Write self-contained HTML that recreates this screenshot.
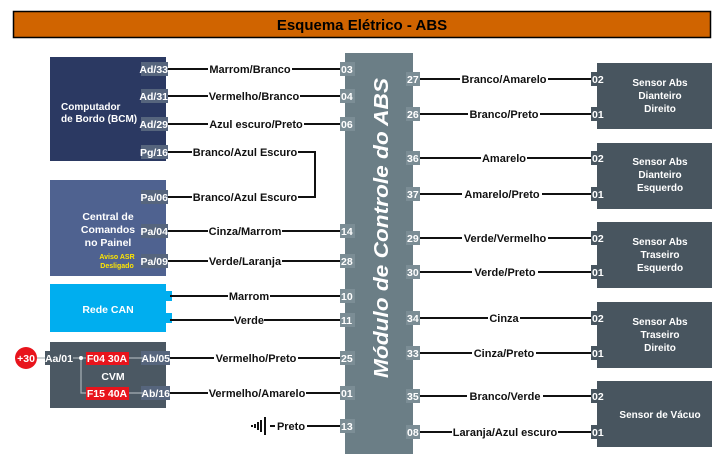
<!DOCTYPE html>
<html><head><meta charset="utf-8"><style>
html,body{margin:0;padding:0;background:#fff;width:722px;height:454px;overflow:hidden}
svg{display:block;font-family:"Liberation Sans",sans-serif;font-weight:bold}
</style></head><body>
<svg width="722" height="454" viewBox="0 0 722 454" xmlns="http://www.w3.org/2000/svg">
<rect x="13.5" y="11.5" width="697" height="26" fill="#d06400" stroke="#000" stroke-width="1.5"/>
<text x="362" y="30" font-size="15" text-anchor="middle" fill="#000">Esquema Elétrico - ABS</text>

<!-- left boxes -->
<rect x="50" y="57" width="116" height="104" fill="#2b3962"/>
<text fill="#fff" font-size="10"><tspan x="61" y="110">Computador</tspan><tspan x="61" y="122">de Bordo (BCM)</tspan></text>
<rect x="50" y="180" width="116" height="96" fill="#4f6290"/>
<text fill="#fff" font-size="10.5" text-anchor="middle"><tspan x="108" y="220">Central de</tspan><tspan x="108" y="233">Comandos</tspan><tspan x="108" y="246">no Painel</tspan></text>
<text fill="#ffe600" font-size="7" text-anchor="middle"><tspan x="117" y="259">Aviso ASR</tspan><tspan x="117" y="268">Desligado</tspan></text>
<rect x="50" y="284" width="116" height="48" fill="#00aeef"/>
<rect x="164" y="291" width="8" height="10" fill="#00aeef"/>
<rect x="164" y="313" width="8" height="10" fill="#00aeef"/>
<text x="108" y="313" fill="#fff" font-size="10.5" text-anchor="middle">Rede CAN</text>
<rect x="50" y="342" width="116" height="66" fill="#4b5863"/>
<text x="113" y="380" fill="#fff" font-size="10.5" text-anchor="middle">CVM</text>

<!-- module -->
<rect x="345" y="53" width="68" height="401" fill="#6b7e86"/>
<text transform="translate(388,228) rotate(-90)" fill="#fff" font-size="20" font-style="italic" text-anchor="middle" textLength="300" lengthAdjust="spacingAndGlyphs">Módulo de Controle do ABS</text>

<!-- right boxes -->
<g fill="#48555f">
<rect x="597" y="63" width="115" height="66"/>
<rect x="597" y="143" width="115" height="66"/>
<rect x="597" y="222" width="115" height="66"/>
<rect x="597" y="302" width="115" height="66"/>
<rect x="597" y="381" width="115" height="66"/>
</g>
<g fill="#fff" font-size="10" text-anchor="middle">
<text><tspan x="660" y="86">Sensor Abs</tspan><tspan x="660" y="99">Dianteiro</tspan><tspan x="660" y="112">Direito</tspan></text>
<text><tspan x="660" y="165">Sensor Abs</tspan><tspan x="660" y="178">Dianteiro</tspan><tspan x="660" y="191">Esquerdo</tspan></text>
<text><tspan x="660" y="245">Sensor Abs</tspan><tspan x="660" y="258">Traseiro</tspan><tspan x="660" y="271">Esquerdo</tspan></text>
<text><tspan x="660" y="325">Sensor Abs</tspan><tspan x="660" y="338">Traseiro</tspan><tspan x="660" y="351">Direito</tspan></text>
<text x="660" y="418">Sensor de Vácuo</text>
</g>

<!-- wires -->
<g stroke="#111" stroke-width="2" fill="none">
<line x1="166" y1="69" x2="340" y2="69"/>
<line x1="166" y1="96" x2="340" y2="96"/>
<line x1="166" y1="124" x2="340" y2="124"/>
<polyline points="166,152 315,152 315,197 166,197"/>
<line x1="166" y1="231" x2="340" y2="231"/>
<line x1="166" y1="261" x2="340" y2="261"/>
<line x1="170" y1="296" x2="340" y2="296"/>
<line x1="170" y1="320" x2="340" y2="320"/>
<line x1="166" y1="358" x2="340" y2="358"/>
<line x1="166" y1="393" x2="340" y2="393"/>
<line x1="270" y1="426" x2="340" y2="426"/>
<line x1="419" y1="79" x2="592" y2="79"/>
<line x1="419" y1="114" x2="592" y2="114"/>
<line x1="419" y1="158" x2="592" y2="158"/>
<line x1="419" y1="194" x2="592" y2="194"/>
<line x1="419" y1="238" x2="592" y2="238"/>
<line x1="419" y1="272" x2="592" y2="272"/>
<line x1="419" y1="318" x2="592" y2="318"/>
<line x1="419" y1="353" x2="592" y2="353"/>
<line x1="419" y1="396" x2="592" y2="396"/>
<line x1="419" y1="432" x2="592" y2="432"/>
</g>
<!-- ground -->
<g stroke="#111" stroke-width="2">
<line x1="265" y1="417" x2="265" y2="435"/>
<line x1="261" y1="420" x2="261" y2="432"/>
<line x1="258" y1="422" x2="258" y2="430"/>
<line x1="255" y1="424" x2="255" y2="428"/>
<line x1="252" y1="425" x2="252" y2="427"/>
</g>

<!-- wire labels -->
<g font-size="11" text-anchor="middle" fill="#111">
<g fill="#fff" stroke="none">
<rect x="208" y="62" width="84" height="14"/><rect x="208" y="89" width="92" height="14"/><rect x="208" y="117" width="96" height="14"/>
<rect x="192" y="145" width="106" height="14"/><rect x="192" y="190" width="106" height="14"/>
<rect x="208" y="224" width="74" height="14"/><rect x="208" y="254" width="74" height="14"/>
<rect x="228" y="289" width="42" height="14"/><rect x="234" y="313" width="30" height="14"/>
<rect x="214" y="351" width="84" height="14"/><rect x="208" y="386" width="98" height="14"/><rect x="275" y="419" width="32" height="14"/>
<rect x="460" y="72" width="88" height="14"/><rect x="468" y="107" width="72" height="14"/>
<rect x="481" y="151" width="46" height="14"/><rect x="462" y="187" width="80" height="14"/>
<rect x="462" y="231" width="86" height="14"/><rect x="472" y="265" width="66" height="14"/>
<rect x="488" y="311" width="32" height="14"/><rect x="472" y="346" width="64" height="14"/>
<rect x="467" y="389" width="76" height="14"/><rect x="452" y="425" width="106" height="14"/>
</g>
<text x="250" y="73">Marrom/Branco</text>
<text x="254" y="100">Vermelho/Branco</text>
<text x="256" y="128">Azul escuro/Preto</text>
<text x="245" y="156">Branco/Azul Escuro</text>
<text x="245" y="201">Branco/Azul Escuro</text>
<text x="245" y="235">Cinza/Marrom</text>
<text x="245" y="265">Verde/Laranja</text>
<text x="249" y="300">Marrom</text>
<text x="249" y="324">Verde</text>
<text x="256" y="362">Vermelho/Preto</text>
<text x="257" y="397">Vermelho/Amarelo</text>
<text x="291" y="430">Preto</text>
<text x="504" y="83">Branco/Amarelo</text>
<text x="504" y="118">Branco/Preto</text>
<text x="504" y="162">Amarelo</text>
<text x="502" y="198">Amarelo/Preto</text>
<text x="505" y="242">Verde/Vermelho</text>
<text x="505" y="276">Verde/Preto</text>
<text x="504" y="322">Cinza</text>
<text x="504" y="357">Cinza/Preto</text>
<text x="505" y="400">Branco/Verde</text>
<text x="505" y="436">Laranja/Azul escuro</text>
</g>

<!-- pin labels left boxes -->
<g font-size="10.5" fill="#fff" text-anchor="end">
<g fill="#56657d">
<rect x="141" y="62" width="27" height="14"/><rect x="141" y="89" width="27" height="14"/><rect x="141" y="117" width="27" height="14"/><rect x="141" y="145" width="27" height="14"/>
<rect x="141" y="190" width="27" height="14"/><rect x="141" y="224" width="27" height="14"/><rect x="141" y="254" width="27" height="14"/>
<rect x="141" y="351" width="29" height="14"/><rect x="141" y="386" width="29" height="14"/>
<rect x="45" y="351" width="28" height="14" fill="#4b5863"/>
</g>
<text x="168" y="73">Ad/33</text><text x="168" y="100">Ad/31</text><text x="168" y="128">Ad/29</text><text x="168" y="156">Pg/16</text>
<text x="168" y="201">Pa/06</text><text x="168" y="235">Pa/04</text><text x="168" y="265">Pa/09</text>
<text x="170" y="362">Ab/05</text><text x="170" y="397">Ab/16</text>
<text x="73" y="362">Aa/01</text>
</g>
<!-- CVM internals -->
<circle cx="26" cy="358" r="11" fill="#e8141c"/>
<text x="26" y="362" font-size="10.5" fill="#fff" text-anchor="middle">+30</text>
<g stroke="#aab3b8" stroke-width="1.2" fill="none">
<line x1="37" y1="358" x2="45" y2="358"/>
<line x1="73" y1="358" x2="86" y2="358"/>
<polyline points="81,358 81,393 86,393"/>
<line x1="129" y1="358" x2="143" y2="358"/>
<line x1="129" y1="393" x2="143" y2="393"/>
</g>
<circle cx="81" cy="358" r="2" fill="#fff"/>
<rect x="86" y="352" width="43" height="13" fill="#e8141c"/>
<rect x="86" y="387" width="43" height="13" fill="#e8141c"/>
<text x="107" y="362" font-size="10.5" fill="#fff" text-anchor="middle">F04  30A</text>
<text x="107" y="397" font-size="10.5" fill="#fff" text-anchor="middle">F15  40A</text>

<!-- module pins -->
<g font-size="10.5" fill="#fff">
<g fill="#7b8d95">
<rect x="340" y="62" width="15" height="14"/><rect x="340" y="89" width="15" height="14"/><rect x="340" y="117" width="15" height="14"/>
<rect x="340" y="224" width="15" height="14"/><rect x="340" y="254" width="15" height="14"/><rect x="340" y="289" width="15" height="14"/>
<rect x="340" y="313" width="15" height="14"/><rect x="340" y="351" width="15" height="14"/><rect x="340" y="386" width="15" height="14"/><rect x="340" y="419" width="15" height="14"/>
<rect x="406" y="72" width="14" height="14"/><rect x="406" y="107" width="14" height="14"/><rect x="406" y="151" width="14" height="14"/><rect x="406" y="187" width="14" height="14"/>
<rect x="406" y="231" width="14" height="14"/><rect x="406" y="265" width="14" height="14"/><rect x="406" y="311" width="14" height="14"/><rect x="406" y="346" width="14" height="14"/>
<rect x="406" y="389" width="14" height="14"/><rect x="406" y="425" width="14" height="14"/>
</g>
<text x="341" y="73">03</text><text x="341" y="100">04</text><text x="341" y="128">06</text>
<text x="341" y="235">14</text><text x="341" y="265">28</text><text x="341" y="300">10</text><text x="341" y="324">11</text>
<text x="341" y="362">25</text><text x="341" y="397">01</text><text x="341" y="430">13</text>
<text x="407" y="83">27</text><text x="407" y="118">26</text><text x="407" y="162">36</text><text x="407" y="198">37</text>
<text x="407" y="242">29</text><text x="407" y="276">30</text><text x="407" y="322">34</text><text x="407" y="357">33</text>
<text x="407" y="400">35</text><text x="407" y="436">08</text>
<g fill="#48555f">
<rect x="591" y="72" width="15" height="14"/><rect x="591" y="107" width="15" height="14"/><rect x="591" y="151" width="15" height="14"/><rect x="591" y="187" width="15" height="14"/>
<rect x="591" y="231" width="15" height="14"/><rect x="591" y="265" width="15" height="14"/><rect x="591" y="311" width="15" height="14"/><rect x="591" y="346" width="15" height="14"/>
<rect x="591" y="389" width="15" height="14"/><rect x="591" y="425" width="15" height="14"/>
</g>
<text x="592" y="83">02</text><text x="592" y="118">01</text><text x="592" y="162">02</text><text x="592" y="198">01</text>
<text x="592" y="242">02</text><text x="592" y="276">01</text><text x="592" y="322">02</text><text x="592" y="357">01</text>
<text x="592" y="400">02</text><text x="592" y="436">01</text>
</g>
</svg>
</body></html>
